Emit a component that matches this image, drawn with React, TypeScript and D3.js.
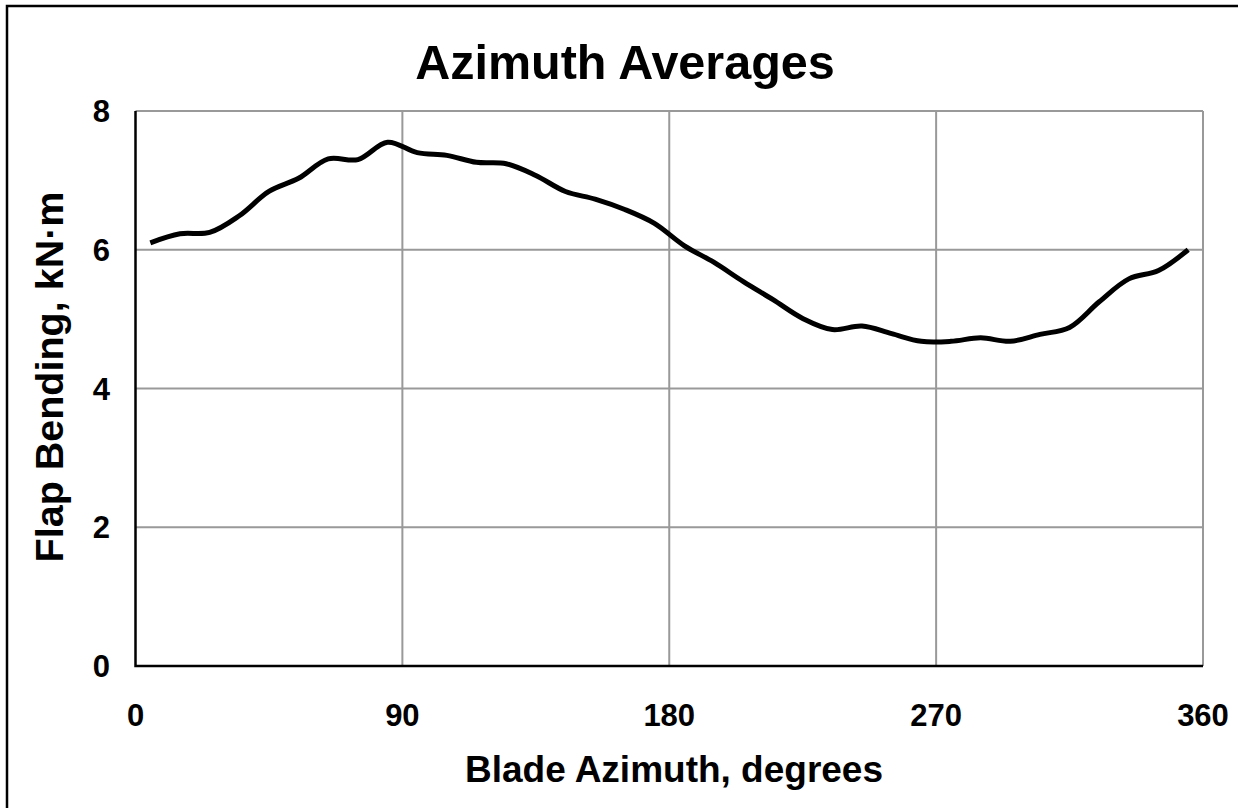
import * as d3 from 'd3';
import React, { useEffect, useRef } from 'react';

// blade azimuth bin centres (deg) and averaged flap bending (kN·m)
const azimuth = [
  5, 15, 25, 35, 45, 55, 65, 75, 85, 95, 105, 115, 125, 135, 145, 155, 165, 175,
  185, 195, 205, 215, 225, 235, 245, 255, 265, 275, 285, 295, 305, 315, 325, 335, 345, 355,
];
const flapBending = [
  6.1, 6.23, 6.25, 6.49, 6.84, 7.03, 7.31, 7.3, 7.55, 7.4, 7.36, 7.26, 7.24, 7.07, 6.84, 6.73, 6.58, 6.38,
  6.06, 5.82, 5.54, 5.28, 5.01, 4.85, 4.9, 4.79, 4.68, 4.68, 4.73, 4.68, 4.78, 4.88, 5.25, 5.58, 5.7, 6.0,
];
const xTicks = [0, 90, 180, 270, 360];
const yTicks = [0, 2, 4, 6, 8];

const FONT = 'Arial, "Liberation Sans", Helvetica, sans-serif';

const App: React.FC = () => {
  const svgRef = useRef<SVGSVGElement>(null);

  useEffect(() => {
    const W = 1238;
    const H = 808;
    const margin = { top: 111, right: 35, bottom: 142, left: 135.5 };

    const svg = d3.select(svgRef.current);
    svg.selectAll('*').remove();
    svg.attr('width', W).attr('height', H);

    svg.append('rect').attr('width', W).attr('height', H).attr('fill', '#fff');
    // outer frame (right/bottom edges fall outside the picture)
    svg
      .append('rect')
      .attr('x', 7)
      .attr('y', 6)
      .attr('width', W + 20)
      .attr('height', H + 20)
      .attr('fill', 'none')
      .attr('stroke', '#000')
      .attr('stroke-width', 2.5);

    const x = d3.scaleLinear().domain([0, 360]).range([margin.left, W - margin.right]);
    const y = d3.scaleLinear().domain([0, 8]).range([H - margin.bottom, margin.top]);

    // grid
    const grid = svg.append('g').attr('stroke', '#999').attr('stroke-width', 2);
    grid
      .selectAll('.gx')
      .data(xTicks.slice(1))
      .enter()
      .append('line')
      .attr('x1', (d) => x(d))
      .attr('x2', (d) => x(d))
      .attr('y1', y(0))
      .attr('y2', y(8));
    grid
      .selectAll('.gy')
      .data(yTicks.slice(1))
      .enter()
      .append('line')
      .attr('x1', x(0))
      .attr('x2', x(360))
      .attr('y1', (d) => y(d))
      .attr('y2', (d) => y(d));

    // axes lines
    svg
      .append('path')
      .attr('d', `M${x(0)},${y(8)}V${y(0)}H${x(360)}`)
      .attr('fill', 'none')
      .attr('stroke', '#000')
      .attr('stroke-width', 2.5);

    // data line
    const pts = azimuth.map((a, i) => [a, flapBending[i]] as [number, number]);
    const line = d3
      .line<[number, number]>()
      .x((d) => x(d[0]))
      .y((d) => y(d[1]))
      .curve(d3.curveCatmullRom.alpha(0.5));
    svg
      .append('path')
      .datum(pts)
      .attr('fill', 'none')
      .attr('stroke', '#000')
      .attr('stroke-width', 5)
      .attr('stroke-linejoin', 'round')
      .attr('d', line);

    // tick labels
    svg
      .selectAll('.xt')
      .data(xTicks)
      .enter()
      .append('text')
      .attr('x', (d) => x(d))
      .attr('y', 726)
      .attr('text-anchor', 'middle')
      .attr('font-family', FONT)
      .attr('font-weight', 'bold')
      .attr('font-size', 31)
      .text((d) => d);
    svg
      .selectAll('.yt')
      .data(yTicks)
      .enter()
      .append('text')
      .attr('x', 110)
      .attr('y', (d) => y(d))
      .attr('dy', '0.36em')
      .attr('text-anchor', 'end')
      .attr('font-family', FONT)
      .attr('font-weight', 'bold')
      .attr('font-size', 31)
      .text((d) => d);

    // titles
    svg
      .append('text')
      .attr('x', 625)
      .attr('y', 79)
      .attr('text-anchor', 'middle')
      .attr('font-family', FONT)
      .attr('font-weight', 'bold')
      .attr('font-size', 48.5)
      .text('Azimuth Averages');
    svg
      .append('text')
      .attr('x', 674)
      .attr('y', 782)
      .attr('text-anchor', 'middle')
      .attr('font-family', FONT)
      .attr('font-weight', 'bold')
      .attr('font-size', 37)
      .text('Blade Azimuth, degrees');
    svg
      .append('text')
      .attr('transform', `translate(63,377) rotate(-90)`)
      .attr('text-anchor', 'middle')
      .attr('font-family', FONT)
      .attr('font-weight', 'bold')
      .attr('font-size', 39.5)
      .text('Flap Bending, kN·m');
  }, []);

  return (
    <svg
      ref={svgRef}
      style={{ position: 'absolute', left: 0, top: 0, display: 'block' }}
    />
  );
};

export default App;
